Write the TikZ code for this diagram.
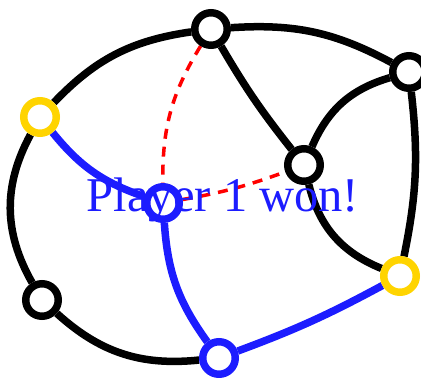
\documentclass[tikz,border=0pt]{standalone}
\usepackage{fontspec}
\setmainfont{Liberation Serif}
\usepackage{tikz}
\usetikzlibrary{calc}
\pgfdeclarelayer{edges}
\pgfsetlayers{edges,main}
\definecolor{pblue}{RGB}{28,28,255}
\definecolor{pgold}{RGB}{255,212,0}

\begin{document}
\begin{tikzpicture}[x=1pt, y=-1pt,
    vertex/.style={circle, draw=black, fill=white, line width=7.5pt, minimum size=32.5pt, inner sep=0pt},
    won/.style={vertex, draw=pblue},
    goal/.style={vertex, draw=pgold},
    edge/.style={draw=black, line width=7.5pt},
    path1/.style={draw=pblue, line width=7.5pt},
    cut/.style={draw=red, line width=3.5pt, dash pattern=on 10pt off 8pt}]
    \useasboundingbox (0,0) rectangle (421,378);

    \node[vertex] (top) at (211,29) {};
    \node[vertex] (ne) at (409,72) {};
    \node[goal] (w) at (40,117) {};
    \node[vertex] (mid) at (304,165) {};
    \node[won] (c) at (163,203) {};
    \node[goal] (e) at (400,276) {};
    \node[vertex] (sw) at (42,300) {};
    \node[won] (s) at (219,358) {};

    \begin{pgfonlayer}{edges}
        % outer ring
        \draw[edge] (top) to[bend left=16] (ne);
        \draw[edge] (top) to[bend right=19] (w);
        \draw[edge] (w) to[bend right=29] (sw);
        \draw[edge] (sw) to[bend right=24] (s);
        \draw[edge] (ne) to[bend left=9] (e);
        % inner edges
        \draw[edge] (top) to[bend right=4] (mid);
        \draw[edge] (ne) to[bend right=25] (mid);
        \draw[edge] (mid) to[bend right=27] (e);
        % winning path
        \draw[path1] (w) to[bend right=16] (c);
        \draw[path1] (c) to[bend right=16] (s);
        \draw[path1] (s) to[bend right=4] (e);
        % removed edges
        \draw[cut] (top) to[bend right=16] (c);
        \draw[cut] (c) to[bend right=5] (mid);
    \end{pgfonlayer}

    \node[anchor=base, text=pblue, inner sep=0pt, font=\fontsize{48.5}{48}\selectfont] (msg) at (223,211) {Player 1 won!};
\end{tikzpicture}
\end{document}
